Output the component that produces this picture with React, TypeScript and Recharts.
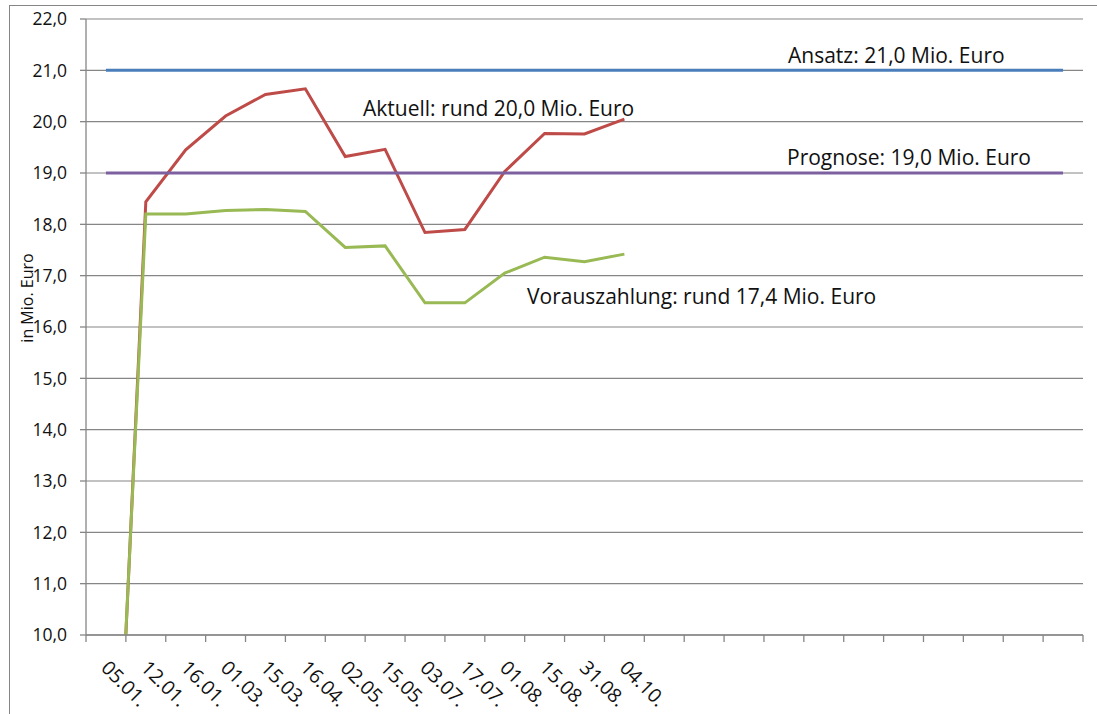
import { LineChart, Line, XAxis, YAxis, CartesianGrid, Customized } from 'recharts';

// Stichtage der Erhebung, rechts folgen noch leere Kategorien
const dates = [
  '05.01.', '12.01.', '16.01.', '01.03.', '15.03.', '16.04.', '02.05.',
  '15.05.', '03.07.', '17.07.', '01.08.', '15.08.', '31.08.', '04.10.',
  '', '', '', '', '', '', '', '', '', '', '',
];

const aktuell = [1.6, 18.44, 19.45, 20.11, 20.53, 20.64, 19.32, 19.46, 17.84, 17.9, 19.03, 19.77, 19.76, 20.05];
const vorauszahlung = [1.9, 18.2, 18.2, 18.27, 18.29, 18.25, 17.55, 17.58, 16.47, 16.47, 17.05, 17.36, 17.27, 17.42];
const ansatz = [21, 21, 21, 21, 21, 21, 21, 21, 21, 21, 21, 21, 21, 21, 21, 21, 21, 21, 21, 21, 21, 21, 21, 21, 21];
const prognose = [19, 19, 19, 19, 19, 19, 19, 19, 19, 19, 19, 19, 19, 19, 19, 19, 19, 19, 19, 19, 19, 19, 19, 19, 19];

const yTicks = [10, 11, 12, 13, 14, 15, 16, 17, 18, 19, 20, 21, 22];

const chartData = dates.map((date, i) => ({
  date,
  aktuell: aktuell[i],
  vorauszahlung: vorauszahlung[i],
  ansatz: ansatz[i],
  prognose: prognose[i],
}));

const FONT = '"Open Sans", "Noto Sans", sans-serif';
const AXIS_GRAY = '#868686';
const TEXT = '#111';

const CHART_W = 1097;
const CHART_H = 714;
const Y_AXIS_W = 86;
const RIGHT_MARGIN = 14;
// halbe Kategorienbreite, damit die Punkte wie in Excel zwischen den Strichen liegen
const HALF_BAND = (CHART_W - Y_AXIS_W - RIGHT_MARGIN) / dates.length / 2;

const formatValue = (v: number) => v.toFixed(1).replace('.', ',');

// Excel-artige Achse: Striche zwischen den Kategorien, Beschriftung schräg
const DateTick = (props: any) => {
  const { x, y, payload, index } = props;
  const left = x - HALF_BAND;
  const tx = x - 6;
  const ty = y + 34;
  return (
    <g>
      <line x1={left} y1={y} x2={left} y2={y + 7} stroke={AXIS_GRAY} strokeWidth={1.3} />
      {index === dates.length - 1 && (
        <line x1={x + HALF_BAND} y1={y} x2={x + HALF_BAND} y2={y + 7} stroke={AXIS_GRAY} strokeWidth={1.3} />
      )}
      {payload.value && (
        <text
          x={tx}
          y={ty}
          transform={`rotate(45, ${tx}, ${ty})`}
          textAnchor="start"
          fontSize={19.5}
          fontFamily={FONT}
          fill={TEXT}
        >
          {payload.value}
        </text>
      )}
    </g>
  );
};

const Annotations = () => (
  <g fontFamily={FONT} fontSize={21} fill={TEXT}>
    <text x={788} y={63}>Ansatz: 21,0 Mio. Euro</text>
    <text x={363} y={116}>Aktuell: rund 20,0 Mio. Euro</text>
    <text x={787} y={165}>Prognose: 19,0 Mio. Euro</text>
    <text x={527} y={304}>Vorauszahlung: rund 17,4 Mio. Euro</text>
    <text
      x={33}
      y={298}
      transform="rotate(-90, 33, 298)"
      textAnchor="middle"
      fontSize={16}
    >
      in Mio. Euro
    </text>
  </g>
);

const App = () => {
  return (
    <div style={{ position: 'absolute', left: 0, top: 0, width: CHART_W, height: CHART_H, overflow: 'hidden', background: '#fff' }}>
      <div
        style={{
          position: 'absolute',
          left: 9,
          top: 5,
          width: 1200,
          height: 800,
          borderLeft: `1px solid ${AXIS_GRAY}`,
          borderTop: `1px solid ${AXIS_GRAY}`,
        }}
      />
      <LineChart
        width={CHART_W}
        height={CHART_H}
        data={chartData}
        margin={{ top: 19, right: RIGHT_MARGIN, bottom: 0, left: 0 }}
        style={{ position: 'absolute', left: 0, top: 0 }}
      >
        <CartesianGrid vertical={false} stroke={AXIS_GRAY} strokeWidth={1.2} />
        <XAxis
          dataKey="date"
          height={79}
          interval={0}
          padding={{ left: HALF_BAND, right: HALF_BAND }}
          tickSize={0}
          tickMargin={0}
          tickLine={false}
          tick={<DateTick />}
          axisLine={{ stroke: AXIS_GRAY, strokeWidth: 1.3 }}
        />
        <YAxis
          width={Y_AXIS_W}
          domain={[10, 22]}
          ticks={yTicks}
          allowDataOverflow
          tickFormatter={formatValue}
          tickSize={6}
          tickMargin={13}
          tickLine={{ stroke: AXIS_GRAY, strokeWidth: 1.3 }}
          axisLine={{ stroke: AXIS_GRAY, strokeWidth: 1.3 }}
          tick={{ fontSize: 17.5, fontFamily: FONT, fill: TEXT }}
        />
        <Line type="linear" dataKey="aktuell" stroke="#BE4B48" strokeWidth={3} dot={false} activeDot={false} isAnimationActive={false} />
        <Line type="linear" dataKey="vorauszahlung" stroke="#98B954" strokeWidth={3} dot={false} activeDot={false} isAnimationActive={false} />
        <Line type="linear" dataKey="ansatz" stroke="#4A7EBB" strokeWidth={3} dot={false} activeDot={false} isAnimationActive={false} />
        <Line type="linear" dataKey="prognose" stroke="#7D60A0" strokeWidth={3} dot={false} activeDot={false} isAnimationActive={false} />
        <Customized component={Annotations} />
      </LineChart>
    </div>
  );
};

export default App;
